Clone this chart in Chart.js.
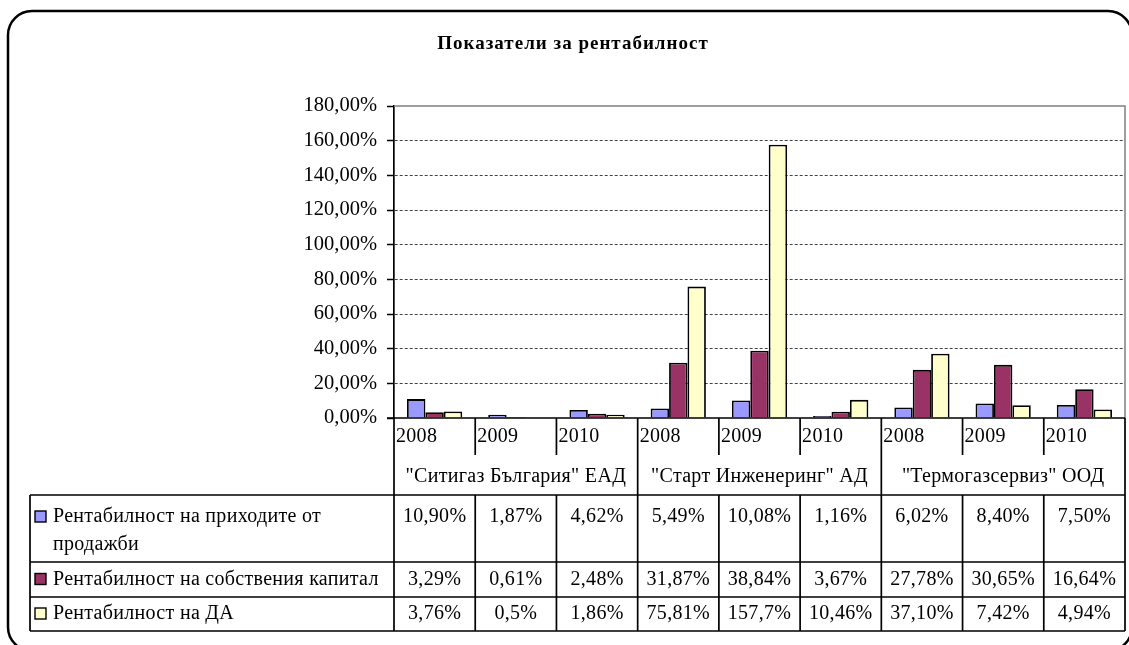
<!DOCTYPE html>
<html>
<head>
<meta charset="utf-8">
<script src="https://cdn.jsdelivr.net/npm/chart.js@4"></script>
<style>
html,body{margin:0;padding:0;background:#fff;}
#wrap{position:relative;width:1129px;height:645px;}
</style>
</head>
<body>
<div id="wrap"><canvas id="c" width="1129" height="645"></canvas></div>
<script>
const chartTitle = 'Показатели за рентабилност';
const years = ['2008','2009','2010','2008','2009','2010','2008','2009','2010'];
const companies = ['"Ситигаз България" ЕАД', '"Старт Инженеринг" АД', '"Термогазсервиз" ООД'];
const seriesNames = [['Рентабилност на приходите от', 'продажби'], ['Рентабилност на собствения капитал'], ['Рентабилност на ДА']];
const salesReturn = [10.90, 1.87, 4.62, 5.49, 10.08, 1.16, 6.02, 8.40, 7.50];
const equityReturn = [3.29, 0.61, 2.48, 31.87, 38.84, 3.67, 27.78, 30.65, 16.64];
const assetsReturn = [3.76, 0.5, 1.86, 75.81, 157.7, 10.46, 37.10, 7.42, 4.94];
const salesText = ['10,90%','1,87%','4,62%','5,49%','10,08%','1,16%','6,02%','8,40%','7,50%'];
const equityText = ['3,29%','0,61%','2,48%','31,87%','38,84%','3,67%','27,78%','30,65%','16,64%'];
const assetsText = ['3,76%','0,5%','1,86%','75,81%','157,7%','10,46%','37,10%','7,42%','4,94%'];
const yMin = 0, yMax = 180, yStep = 20;
const colors = ['#9999FF', '#993366', '#FFFFCC'];

const FONT = '"Liberation Serif", "Times New Roman", serif';
const FS = 20;

const tablePlugin = {
  id: 'tablePlugin',
  beforeDraw(chart) {
    const ctx = chart.ctx;
    ctx.save();
    ctx.fillStyle = '#fff';
    ctx.fillRect(0, 0, chart.width, chart.height);
    ctx.strokeStyle = '#000';
    ctx.lineWidth = 2.5;
    ctx.beginPath();
    ctx.roundRect(8, 11, 1124, 640, 24);
    ctx.stroke();
    ctx.restore();
  },
  afterDraw(chart) {
    const ctx = chart.ctx;
    const xs = chart.scales.x;
    const area = chart.chartArea;
    const n = years.length;
    const w = (area.right - area.left) / n;
    const edge = i => xs.getPixelForValue(i) - w / 2;
    const y0 = chart.scales.y.getPixelForValue(0);
    const rYear = y0 + 37, rComp = y0 + 77, r1 = rComp + 67, r2 = r1 + 35, r3 = r2 + 34;
    const legL = 30;
    ctx.save();
    // title
    ctx.fillStyle = '#000';
    ctx.font = 'bold 19px ' + FONT;
    ctx.letterSpacing = '1px';
    ctx.textAlign = 'center';
    ctx.textBaseline = 'middle';
    ctx.fillText(chartTitle, 573, 44);
    ctx.letterSpacing = '0px';
    // plot border top/right
    ctx.strokeStyle = '#808080';
    ctx.lineWidth = 1.5;
    ctx.beginPath();
    ctx.moveTo(area.left, area.top); ctx.lineTo(area.right, area.top); ctx.lineTo(area.right, y0);
    ctx.stroke();
    // table lines
    ctx.strokeStyle = '#000';
    ctx.lineWidth = 1.7;
    ctx.beginPath();
    ctx.moveTo(area.left - 7, y0); ctx.lineTo(area.right, y0);
    ctx.moveTo(area.left, y0); ctx.lineTo(area.left, r3);
    ctx.moveTo(area.right, y0); ctx.lineTo(area.right, r3);
    for (let i = 1; i < n; i++) {
      const x = edge(i);
      if (i % 3 === 0) { ctx.moveTo(x, y0); ctx.lineTo(x, r3); }
      else { ctx.moveTo(x, y0); ctx.lineTo(x, rYear); ctx.moveTo(x, rComp); ctx.lineTo(x, r3); }
    }
    ctx.moveTo(legL, rComp); ctx.lineTo(area.right, rComp);
    ctx.moveTo(legL, r1); ctx.lineTo(area.right, r1);
    ctx.moveTo(legL, r2); ctx.lineTo(area.right, r2);
    ctx.moveTo(legL, r3); ctx.lineTo(area.right, r3);
    ctx.moveTo(legL, rComp); ctx.lineTo(legL, r3);
    ctx.stroke();
    // text
    ctx.fillStyle = '#000';
    ctx.font = FS + 'px ' + FONT;
    ctx.letterSpacing = '0.3px';
    ctx.textBaseline = 'middle';
    ctx.textAlign = 'left';
    for (let i = 0; i < n; i++) ctx.fillText(years[i], edge(i) + 2, y0 + 19);
    ctx.textAlign = 'center';
    for (let g = 0; g < companies.length; g++) {
      const cx = (edge(g * 3) + edge(g * 3) + 3 * w) / 2;
      ctx.fillText(companies[g], cx, y0 + 59);
    }
    const rows = [[salesText, rComp + 22], [equityText, (r1 + r2) / 2], [assetsText, (r2 + r3) / 2]];
    rows.forEach((row, k) => {
      const [texts, ty] = row;
      ctx.textAlign = 'center';
      for (let i = 0; i < n; i++) ctx.fillText(texts[i], xs.getPixelForValue(i), ty);
      ctx.textAlign = 'left';
      seriesNames[k].forEach((line, j) => ctx.fillText(line, 53, ty + j * 28));
      ctx.fillStyle = colors[k];
      ctx.fillRect(35, ty - 6, 11, 11);
      ctx.strokeStyle = '#000';
      ctx.lineWidth = 1.4;
      ctx.strokeRect(35, ty - 6, 11, 11);
      ctx.fillStyle = '#000';
    });
    ctx.restore();
  }
};

new Chart(document.getElementById('c'), {
  type: 'bar',
  data: {
    labels: years,
    datasets: [
      { label: seriesNames[0].join(' '), data: salesReturn, backgroundColor: colors[0] },
      { label: seriesNames[1].join(' '), data: equityReturn, backgroundColor: colors[1] },
      { label: seriesNames[2].join(' '), data: assetsReturn, backgroundColor: colors[2] }
    ].map(d => Object.assign(d, { borderColor: '#000', borderWidth: 1.8, borderSkipped: 'bottom', categoryPercentage: 0.68, barPercentage: 1.0 }))
  },
  options: {
    responsive: false,
    animation: false,
    layout: { padding: { top: 106, bottom: 227, left: 0, right: 4 } },
    plugins: {
      legend: { display: false },
      tooltip: { enabled: false },
      title: { display: false }
    },
    scales: {
      x: { display: false },
      y: {
        min: yMin, max: yMax,
        afterFit(s) { s.width = 394; },
        ticks: {
          stepSize: yStep,
          color: '#000',
          font: { family: FONT, size: 20.5 },
          padding: 10,
          callback: v => v.toFixed(2).replace('.', ',') + '%'
        },
        grid: {
          color: ctx => (ctx.tick && (ctx.tick.value === 0 || ctx.tick.value === yMax)) ? 'rgba(0,0,0,0)' : '#444',
          lineWidth: 1,
          tickLength: 7,
          tickColor: '#000',
          tickWidth: 1.5
        },
        border: { display: true, color: '#000', width: 1.7, dash: [3, 2] }
      }
    }
  },
  plugins: [tablePlugin]
});
</script>
</body>
</html>
